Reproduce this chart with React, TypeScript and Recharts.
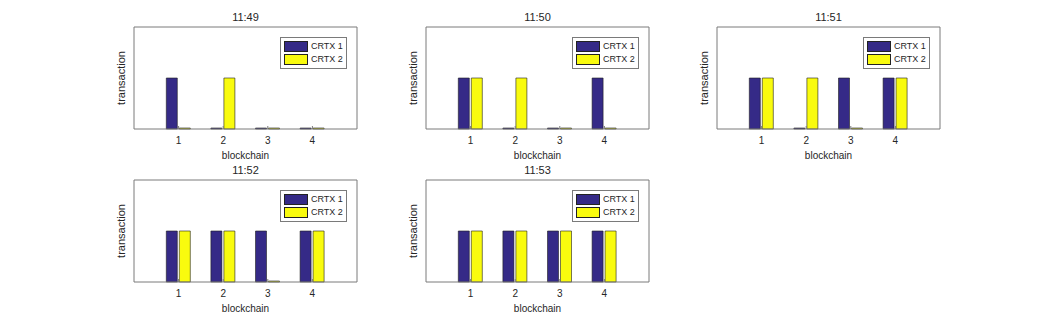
import React from "react";
import { Bar, BarChart, Legend, XAxis, YAxis } from "recharts";

const minutes = ["11:49", "11:50", "11:51", "11:52", "11:53"];
const blockchains = ["1", "2", "3", "4"];
const seriesNames = ["CRTX 1", "CRTX 2"];
// one row per minute, one value per blockchain
const crtx1 = [
  [1, 0, 0, 0],
  [1, 0, 0, 1],
  [1, 0, 1, 1],
  [1, 1, 1, 1],
  [1, 1, 1, 1],
];
const crtx2 = [
  [0, 1, 0, 0],
  [1, 1, 0, 0],
  [1, 1, 0, 1],
  [1, 1, 0, 1],
  [1, 1, 1, 1],
];
const yDomain = [0, 2];
const yTicks = [1];

const BLUE = "#352a87";
const YELLOW = "#f9fb0e";
const AXIS = "#7a7a7a";
const TEXT = "#262626";
const FONT = "'Liberation Sans', Arial, Helvetica, sans-serif";

const colLefts = [134, 426, 717];
const rowTops = [27, 180];
const PLOT_W = 223;
const PLOT_H = 102;
const M_LEFT = 15;
const Y_W = 25;
const M_TOP = 20;
const M_RIGHT = 10;
const X_H = 32;

function LegendBox({ payload }: any) {
  return (
    <div
      style={{
        border: `1px solid ${AXIS}`,
        background: "#fff",
        padding: "2px 3px",
        fontSize: 9,
        color: TEXT,
        lineHeight: "13px",
      }}
    >
      {(payload || []).map((p: any) => (
        <div key={p.value} style={{ display: "flex", alignItems: "center", height: 13 }}>
          <span
            style={{
              display: "inline-block",
              width: 22,
              height: 9,
              background: p.color,
              border: "1px solid #222",
              marginRight: 3,
            }}
          />
          <span>{p.value}</span>
        </div>
      ))}
    </div>
  );
}

function Panel({ index, left, top }: { index: number; left: number; top: number }) {
  const data = blockchains.map((b, i) => ({ name: b, c1: crtx1[index][i], c2: crtx2[index][i] }));
  const plotX = M_LEFT + Y_W;
  return (
    <div style={{ position: "absolute", left: left - plotX, top: top - M_TOP }}>
      <BarChart
        width={plotX + PLOT_W + M_RIGHT}
        height={M_TOP + PLOT_H + X_H}
        data={data}
        margin={{ top: M_TOP - 1, right: M_RIGHT - 1, bottom: 0, left: M_LEFT }}
        barSize={11}
        barGap={2}
      >
        <XAxis
          dataKey="name"
          interval={0}
          padding={{ left: 22.3, right: 22.3 }}
          height={X_H}
          stroke={AXIS}
          tickSize={-3}
          tickMargin={11}
          tick={{ fill: TEXT, fontSize: 10 }}
          label={{ value: "blockchain", position: "insideBottom", offset: 2, fill: TEXT, fontSize: 10 }}
        />
        <XAxis
          xAxisId="top"
          orientation="top"
          dataKey="name"
          interval={0}
          padding={{ left: 22.3, right: 22.3 }}
          height={1}
          stroke={AXIS}
          tickSize={-3}
          tick={false}
          label={{ value: minutes[index], position: "top", offset: 5, fill: TEXT, fontSize: 11 }}
        />
        <YAxis
          domain={yDomain}
          ticks={yTicks}
          width={Y_W}
          stroke={AXIS}
          tickSize={-3}
          tick={false}
          label={{ value: "transaction", angle: -90, position: "center", fill: TEXT, fontSize: 11 }}
        />
        <YAxis
          yAxisId="r"
          orientation="right"
          domain={yDomain}
          ticks={yTicks}
          width={1}
          stroke={AXIS}
          tickSize={-3}
          tick={false}
        />
        <Legend
          layout="vertical"
          align="center"
          verticalAlign="middle"
          content={<LegendBox />}
          wrapperStyle={{ left: plotX + 146, top: M_TOP + 9.5, width: 67 }}
        />
        <Bar dataKey="c1" name={seriesNames[0]} fill={BLUE} stroke="#1e1e1e" strokeWidth={0.6} minPointSize={1} isAnimationActive={false} />
        <Bar dataKey="c2" name={seriesNames[1]} fill={YELLOW} stroke="#1e1e1e" strokeWidth={0.6} minPointSize={1} isAnimationActive={false} />
      </BarChart>
    </div>
  );
}

export default function App() {
  return (
    <div style={{ position: "absolute", left: 0, top: 0, width: 1038, height: 325, background: "#fff", fontFamily: FONT }}>
      {minutes.map((m, i) => (
        <Panel key={m} index={i} left={colLefts[i % 3]} top={rowTops[Math.floor(i / 3)]} />
      ))}
    </div>
  );
}
